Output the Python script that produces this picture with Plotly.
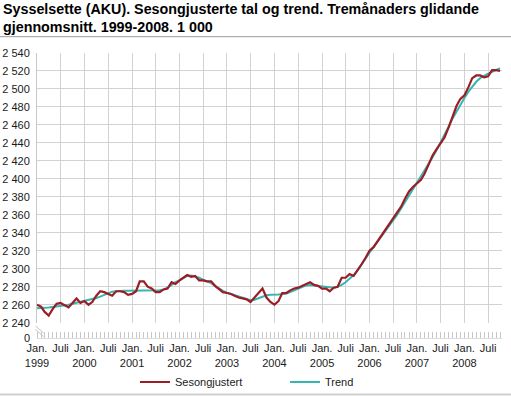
import plotly.graph_objects as go
import pandas as pd

title_lines = [
    "Sysselsette (AKU). Sesongjusterte tal og trend. Tremånaders glidande",
    "gjennomsnitt. 1999-2008. 1 000",
]

sesongjustert = [
    2260, 2258, 2252, 2248, 2255, 2261, 2262, 2259, 2257, 2262, 2267, 2262,
    2264, 2260, 2263, 2270, 2275, 2274, 2272, 2270, 2275, 2275, 2274, 2271,
    2272, 2275, 2286, 2286, 2280, 2278, 2274, 2274, 2277, 2278, 2285, 2283,
    2287, 2290, 2293, 2291, 2292, 2287, 2287, 2286, 2286, 2281, 2277, 2274,
    2273, 2272, 2270, 2268, 2267, 2266, 2263, 2268, 2273, 2278, 2268, 2263,
    2260, 2264, 2273, 2273, 2276, 2278, 2279, 2281, 2283, 2285, 2282, 2281,
    2278, 2278, 2275, 2279, 2280, 2290, 2290, 2294, 2292, 2298, 2305, 2312,
    2320, 2324, 2330, 2337, 2343, 2350, 2355, 2362, 2369, 2378, 2386, 2391,
    2395, 2399, 2406, 2417, 2426, 2433, 2440, 2446, 2457, 2470, 2481, 2489,
    2493, 2502, 2512, 2515, 2515, 2513, 2514, 2521, 2521, 2520,
]

trend = [
    2256, 2256, 2256.5, 2257, 2257.5, 2258, 2258.5, 2259, 2260, 2261, 2262, 2263,
    2264, 2265, 2266, 2267.5, 2269, 2271, 2273, 2274.5, 2275, 2275.5, 2275.5, 2275.5,
    2275.5, 2275.5, 2276, 2276, 2276, 2276, 2276, 2276, 2277, 2279, 2282, 2285,
    2287, 2290, 2292, 2292.5, 2291.5, 2290, 2288, 2286, 2284, 2281, 2278, 2275.5,
    2273.5, 2272, 2270.5, 2269, 2267.5, 2266, 2265, 2265.5, 2267, 2269, 2270.5, 2271,
    2271, 2271.5, 2272, 2272.5, 2274, 2276, 2278, 2280, 2281.5, 2282, 2281.5, 2281,
    2280, 2279.5, 2279, 2279, 2280, 2282, 2285, 2289, 2293, 2298, 2305, 2311,
    2318, 2324, 2329.5, 2335, 2341, 2347, 2353, 2360, 2367, 2374, 2381, 2388,
    2395, 2402, 2409, 2416, 2424, 2432, 2440, 2449, 2458, 2467, 2475, 2483,
    2490, 2497, 2503, 2508, 2512, 2515, 2517, 2519, 2521, 2523,
]

months = pd.date_range(start="1999-01-01", periods=len(sesongjustert), freq="MS")

tick_dates = [
    "1999-01-01", "1999-07-01", "2000-01-01", "2000-07-01", "2001-01-01", "2001-07-01",
    "2002-01-01", "2002-07-01", "2003-01-01", "2003-07-01", "2004-01-01", "2004-07-01",
    "2005-01-01", "2005-07-01", "2006-01-01", "2006-07-01", "2007-01-01", "2007-07-01",
    "2008-01-01", "2008-07-01",
]
tick_labels = [
    "Jan.<br>1999", "Juli", "Jan.<br>2000", "Juli", "Jan.<br>2001", "Juli",
    "Jan.<br>2002", "Juli", "Jan.<br>2003", "Juli", "Jan.<br>2004", "Juli",
    "Jan.<br>2005", "Juli", "Jan.<br>2006", "Juli", "Jan.<br>2007", "Juli",
    "Jan.<br>2008", "Juli",
]
y_ticks = list(range(2240, 2541, 20))

RED = "#9b1d25"
TEAL = "#36b5b1"
GRID = "#d2d2d2"
FONT = "Liberation Sans, Arial, sans-serif"

W, H = 511, 396
L, R, T, B = 37, 9, 53, 58
PW, PH = W - L - R, H - T - B

def px(x):
    return (x - L) / PW

def py(y):
    return (H - B - y) / PH

fig = go.Figure()
fig.add_trace(go.Scatter(x=months, y=trend, mode="lines", name="Trend",
                         line=dict(color=TEAL, width=2), legendrank=2))
fig.add_trace(go.Scatter(x=months, y=sesongjustert, mode="lines", name="Sesongjustert",
                         line=dict(color=RED, width=2.2), legendrank=1))
fig.add_trace(go.Scatter(x=[], y=[], yaxis="y2", showlegend=False, hoverinfo="skip"))

shapes = [
    dict(type="line", xref="paper", yref="paper", x0=px(0), x1=px(W), y0=py(36.7), y1=py(36.7),
         line=dict(color="#9a9a9a", width=1)),
    dict(type="line", xref="paper", yref="paper", x0=px(0), x1=px(W), y0=py(394.5), y1=py(394.5),
         line=dict(color="#cfcfcf", width=2)),
    dict(type="line", xref="paper", yref="paper", x0=px(35.5), x1=px(43.5), y0=py(326), y1=py(333),
         line=dict(color="#c4c4c4", width=1)),
    dict(type="line", xref="paper", yref="paper", x0=px(35.5), x1=px(43.5), y0=py(329.5), y1=py(336.5),
         line=dict(color="#c4c4c4", width=1)),
]

annotations = [
    dict(text=title_lines[0], xref="paper", yref="paper", x=px(1), y=py(9),
         xanchor="left", yanchor="middle", align="left", showarrow=False,
         font=dict(family=FONT, size=14.3, color="#000000", weight="bold")),
    dict(text=title_lines[1], xref="paper", yref="paper", x=px(1), y=py(27),
         xanchor="left", yanchor="middle", align="left", showarrow=False,
         font=dict(family=FONT, size=14.3, color="#000000", weight="bold")),
]

fig.update_layout(
    width=W, height=H,
    margin=dict(l=L, r=R, t=T, b=B, autoexpand=False),
    paper_bgcolor="white", plot_bgcolor="white",
    font=dict(family=FONT, size=11, color="#1a1a1a"),
    separators=", ",
    showlegend=True,
    legend=dict(orientation="h", x=px(135), y=py(382), xanchor="left", yanchor="middle",
                font=dict(size=11), entrywidth=105, entrywidthmode="pixels",
                bgcolor="rgba(0,0,0,0)", itemwidth=30),
    xaxis=dict(type="date", anchor="y2", range=["1999-01-01", "2008-10-16"],
               tickvals=tick_dates, ticktext=tick_labels, tickangle=0,
               showgrid=True, gridcolor=GRID, gridwidth=1,
               showline=True, linecolor="#dcdcdc", linewidth=1,
               ticks="", tickfont=dict(size=11), automargin=False,
               minor=dict(dtick="M1", ticks="inside", ticklen=6, tickcolor="#c8c8c8",
                          tickwidth=1, showgrid=False),
               zeroline=False),
    yaxis=dict(domain=[py(322.7), 1], range=[2240, 2540], tickvals=y_ticks,
               tickformat=",d", showgrid=True, gridcolor=GRID, gridwidth=1,
               showline=True, linecolor="#c8c8c8", linewidth=1, ticks="",
               zeroline=False, anchor="x", ticklabelstandoff=4, automargin=False),
    yaxis2=dict(domain=[0, 0.01], range=[0, 1], tickvals=[0], ticktext=["0"],
                showgrid=False, zeroline=False, showline=False, ticks="",
                anchor="x", ticklabelstandoff=6, automargin=False),
    shapes=shapes,
    annotations=annotations,
)

fig.write_html("out.html", config={"displayModeBar": False},
               post_script="document.body.style.margin='0';document.body.style.overflow='hidden';")
